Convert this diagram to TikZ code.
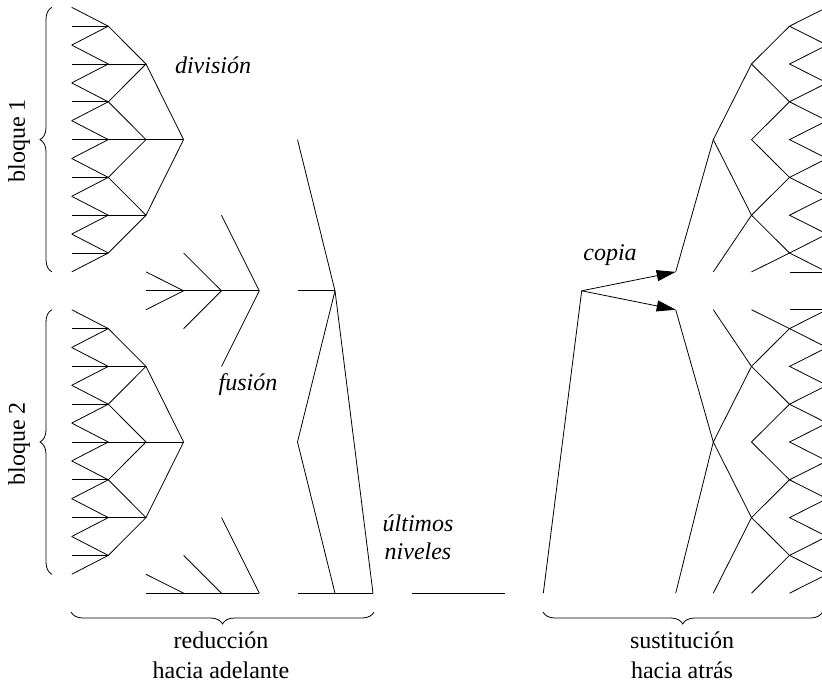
\documentclass[tikz,border=0pt]{standalone}
\usepackage{fontspec}
\setmainfont{Liberation Serif}
\usetikzlibrary{arrows.meta,decorations.pathreplacing}
\begin{document}
\begin{tikzpicture}[x=1pt,y=-1pt,
  declare function={ry(\k)=7.3+18.9*\k;},
  edge/.style={line width=0.8pt},
  copyarrow/.style={edge,-{Triangle[length=19pt,width=11pt]}},
  bracedeco/.style={decorate,decoration={brace,amplitude=12pt},line width=0.8pt},
  lab/.style={font=\fontsize{24}{30}\selectfont, inner sep=0pt, align=center},
  ital/.style={lab, font=\fontsize{24}{28}\selectfont\itshape}]
\useasboundingbox (0,0) rectangle (822,688);
\clip (0,0) rectangle (822,688);

% lattice: left columns (reduction) and right columns (substitution)
\foreach \n/\x in {0/71.7,1/108.3,2/146,3/183.6,4/221.5,5/259.3,6/297.5,7/335,8/373}
  \foreach \k in {0,...,31}
    \coordinate (L\n-\k) at (\x,{ry(\k)});
\foreach \n/\x in {0/827,1/789.5,2/751.5,3/713.3,4/675.7}
  \foreach \k in {0,...,31}
    \coordinate (R\n-\k) at (\x,{ry(\k)});

% ---- forward reduction: division trees of both blocks
\foreach \b in {0,16}{
  \foreach \i in {1,3,...,13}{
    \pgfmathtruncatemacro\kc{\b+\i}
    \pgfmathtruncatemacro\ku{\kc-1}
    \pgfmathtruncatemacro\kd{\kc+1}
    \draw[edge] (L0-\ku) -- (L1-\kc) -- (L0-\kd);
    \draw[edge] (L0-\kc) -- (L1-\kc);
  }
  \foreach \i in {3,7,11}{
    \pgfmathtruncatemacro\kc{\b+\i}
    \pgfmathtruncatemacro\ku{\kc-2}
    \pgfmathtruncatemacro\kd{\kc+2}
    \draw[edge] (L1-\ku) -- (L2-\kc) -- (L1-\kd);
    \draw[edge] (L1-\kc) -- (L2-\kc);
  }
  \pgfmathtruncatemacro\kc{\b+7}
  \pgfmathtruncatemacro\ku{\b+3}
  \pgfmathtruncatemacro\kd{\b+11}
  \draw[edge] (L2-\ku) -- (L3-\kc) -- (L2-\kd);
  \draw[edge] (L2-\kc) -- (L3-\kc);
}

% fusion between the blocks
\draw[edge] (L2-15) -- (L5-15);
\draw[edge] (L2-14) -- (L3-15) -- (L2-16);
\draw[edge] (L3-13) -- (L4-15) -- (L3-17);
\draw[edge] (L4-11) -- (L5-15) -- (L4-19);
\draw[edge] (L2-31) -- (L5-31);
\draw[edge] (L2-30) -- (L3-31);
\draw[edge] (L3-29) -- (L4-31);
\draw[edge] (L4-27) -- (L5-31);

% merged column
\draw[edge] (L6-7) -- (L7-15);
\draw[edge] (L6-15) -- (L7-15);
\draw[edge] (L7-15) -- (L6-23) -- (L7-31);
\draw[edge] (L7-15) -- (L8-31);
\draw[edge] (L6-31) -- (L8-31);

% last levels
\coordinate (U0) at (411.5,{ry(31)});
\coordinate (U1) at (505,{ry(31)});
\draw[edge] (U0) -- (U1);

% ---- backward substitution
\coordinate (S0) at (543.3,{ry(31)});
\coordinate (S1) at (581.7,{ry(15)});
\draw[edge] (S0) -- (S1);
\draw[copyarrow] (S1) -- (R4-14);
\draw[copyarrow] (S1) -- (R4-16);

\foreach \b in {0,16}{
  \foreach \i in {1,3,...,13}{
    \pgfmathtruncatemacro\kc{\b+\i}
    \pgfmathtruncatemacro\ku{\kc-1}
    \pgfmathtruncatemacro\kd{\kc+1}
    \draw[edge] (R0-\ku) -- (R1-\kc) -- (R0-\kd);
  }
  \foreach \i in {3,7,11}{
    \pgfmathtruncatemacro\kc{\b+\i}
    \pgfmathtruncatemacro\ku{\kc-2}
    \pgfmathtruncatemacro\kd{\kc+2}
    \draw[edge] (R1-\ku) -- (R2-\kc) -- (R1-\kd);
  }
  \pgfmathtruncatemacro\kc{\b+7}
  \pgfmathtruncatemacro\ku{\b+3}
  \pgfmathtruncatemacro\kd{\b+11}
  \draw[edge] (R2-\ku) -- (R3-\kc) -- (R2-\kd);
}
% upper block, lower edge
\draw[edge] (R4-14) -- (R3-7);
\draw[edge] (R3-14) -- (R2-11);
\draw[edge] (R2-14) -- (R1-13);
\draw[edge] (R1-14) -- (R0-14);
% lower block, upper edge
\draw[edge] (R4-16) -- (R3-23);
\draw[edge] (R3-16) -- (R2-19);
\draw[edge] (R2-16) -- (R1-17);
\draw[edge] (R1-16) -- (R0-16);
% lower block, lower edge
\draw[edge] (R4-31) -- (R3-23);
\draw[edge] (R3-31) -- (R2-27);
\draw[edge] (R2-31) -- (R1-29);
\draw[edge] (R1-31) -- (R0-30);

% ---- braces
\coordinate (B1a) at (52,{ry(14)});
\coordinate (B1b) at (52,{ry(0)});
\coordinate (B2a) at (52,{ry(30)});
\coordinate (B2b) at (52,{ry(16)});
\draw[bracedeco] (B1a) -- (B1b);
\draw[bracedeco] (B2a) -- (B2b);
\coordinate (Ha) at (374,612);
\coordinate (Hb) at (71,612);
\coordinate (Hc) at (822.5,612);
\coordinate (Hd) at (543,612);
\draw[bracedeco] (Ha) -- (Hb);
\draw[bracedeco] (Hc) -- (Hd);

% ---- labels
\node[lab, rotate=90] (blq1) at (19,141) {bloque 1};
\node[lab, rotate=90] (blq2) at (19,444) {bloque 2};
\node[ital] (div) at (213,65) {división};
\node[ital] (fus) at (248,385) {fusión};
\node[ital] (ult) at (418,537) {últimos\\niveles};
\node[ital] (cop) at (610,255) {copia};
\node[lab] (red) at (221,655) {reducción\\hacia adelante};
\node[lab] (sus) at (682,655) {sustitución\\hacia atrás};
\end{tikzpicture}
\end{document}
